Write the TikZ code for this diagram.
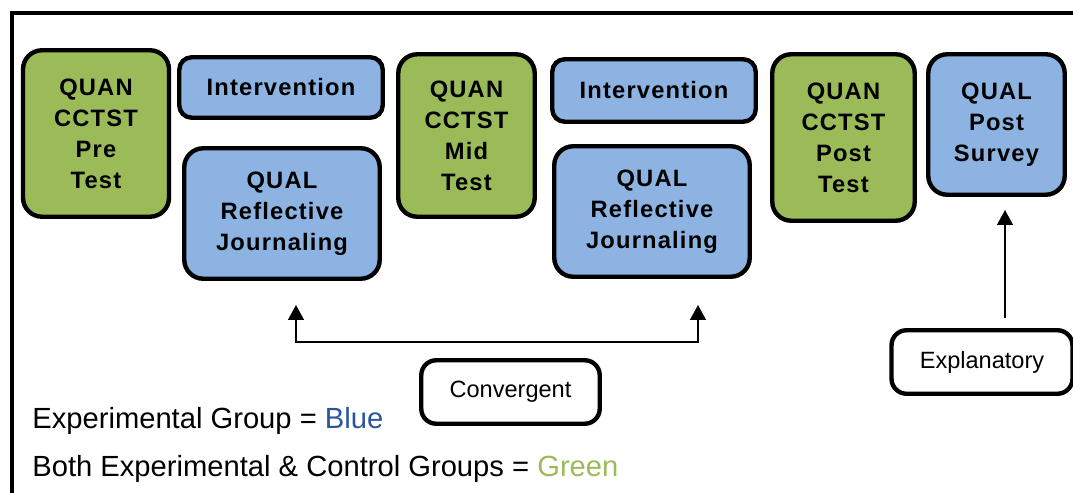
\documentclass[tikz,border=0pt]{standalone}
\usepackage{xcolor}
\usepackage{fontspec}
\setmainfont{Liberation Sans}
\newfontfamily\boxfont[LetterSpace=5]{Liberation Sans}
\usepackage{tikz}
\usetikzlibrary{shapes.geometric, arrows.meta, positioning, calc}
\definecolor{quangreen}{HTML}{9BBB59}
\definecolor{qualblue}{HTML}{8DB3E2}
\definecolor{legendblue}{HTML}{2A5699}
\tikzstyle{phase} = [rectangle, rounded corners=0.38cm, draw=black, line width=2.5pt, align=center, inner sep=0pt, font=\boxfont\bfseries\fontsize{13.5}{17.6}\selectfont]
\tikzstyle{quan} = [phase, fill=quangreen]
\tikzstyle{qual} = [phase, fill=qualblue]
\tikzstyle{designbox} = [rectangle, rounded corners=0.3cm, draw=black, line width=2.5pt, minimum width=3.57cm, minimum height=1.27cm, font=\fontsize{13.4}{16}\selectfont]
\tikzstyle{arrowline} = [line width=1pt, -{Triangle[length=8.5pt,width=9pt]}]
\tikzstyle{legend} = [anchor=base west, inner sep=0pt, font=\fontsize{16.6}{20}\selectfont]

\begin{document}
\begin{tikzpicture}[x=0.02cm,y=-0.02cm]
              \useasboundingbox (0,0) rectangle (1073,493);
              \draw[line width=2.3pt] (12,510) -- (12,13) -- (1090,13);

              \node[quan, minimum width=2.92cm, minimum height=3.33cm] (pre) at (96,133.5) {QUAN\\CCTST\\Pre\\Test};
              \node[qual, minimum width=4.07cm, minimum height=1.21cm, rounded corners=0.25cm] (int-1) at (281,87.5) {Intervention};
              \node[qual, minimum width=3.91cm, minimum height=2.61cm] (jour-1) at (282,213.5) {QUAL\\Reflective\\Journaling};
              \node[quan, minimum width=2.73cm, minimum height=3.25cm] (mid) at (466.5,135.5) {QUAN\\CCTST\\Mid\\Test};
              \node[qual, minimum width=4.07cm, minimum height=1.25cm, rounded corners=0.25cm] (int-2) at (654,90.5) {Intervention};
              \node[qual, minimum width=3.91cm, minimum height=2.61cm] (jour-2) at (652,211.5) {QUAL\\Reflective\\Journaling};
              \node[quan, minimum width=2.85cm, minimum height=3.33cm] (post) at (843.5,137.5) {QUAN\\CCTST\\Post\\Test};
              \node[qual, minimum width=2.73cm, minimum height=2.81cm] (survey) at (996.5,124.5) {QUAL\\Post\\Survey};

              \node[designbox] (conv) at (510.5,392) {Convergent};
              \node[designbox, minimum width=3.62cm] (expl) at (982,362) {Explanatory};

              % convergent bracket under the journaling boxes
              \coordinate (conv-join) at (497,342);
              \coordinate (tip-1) at (296,305);
              \coordinate (tip-2) at (698,305);
              \draw[arrowline] (conv-join) -| (tip-1);
              \draw[arrowline] (conv-join) -| (tip-2);

              % explanatory arrow up to the survey
              \coordinate (expl-foot) at (1005,318);
              \coordinate (expl-tip) at (1005,210);
              \draw[arrowline] (expl-foot) -- (expl-tip);

              \node[legend] (leg-1) at (32,429) {Experimental Group = \textcolor{legendblue}{Blue}};
              \node[legend] (leg-2) at (32,477) {Both Experimental \& Control Groups = \textcolor{quangreen}{Green}};

          \end{tikzpicture}
\end{document}
